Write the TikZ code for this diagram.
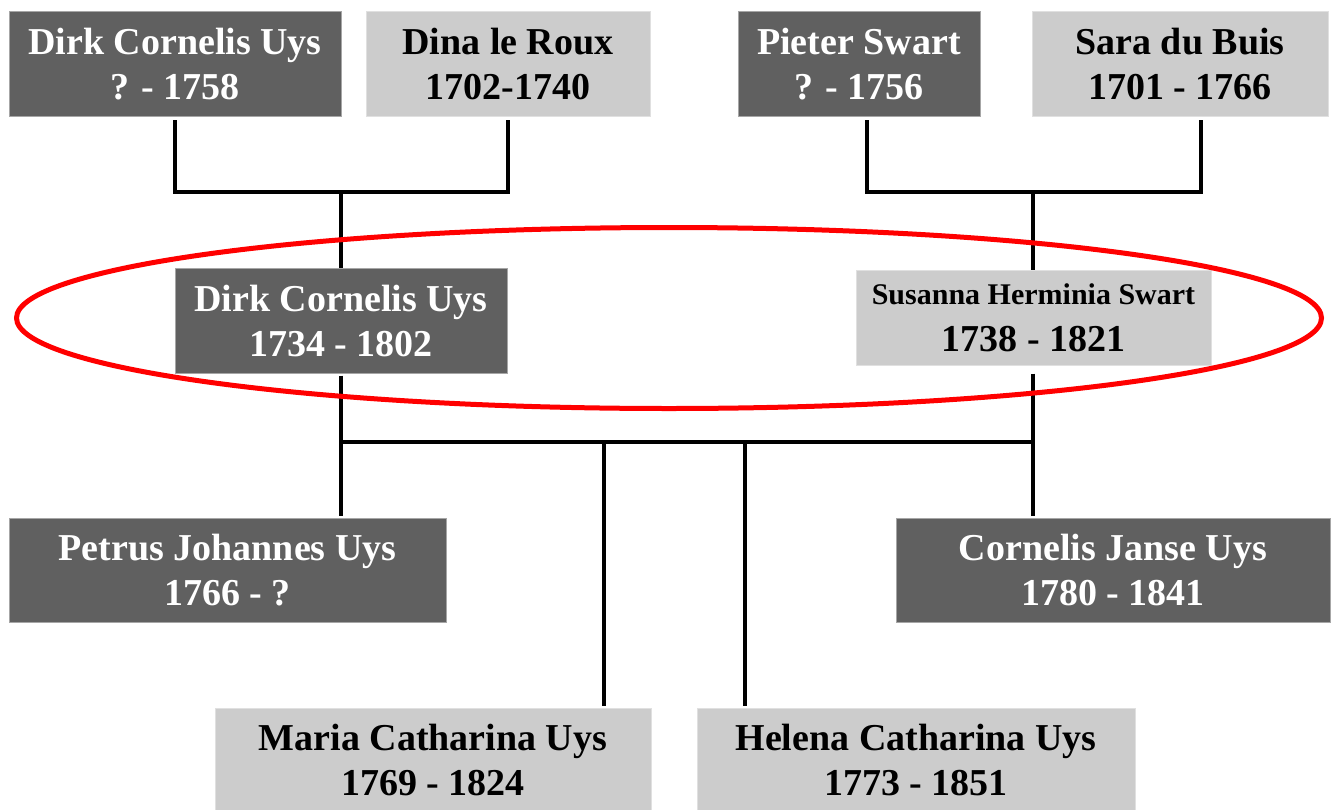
\documentclass[tikz,border=0pt]{standalone}
\usepackage{fontspec}
\setmainfont{Liberation Serif}
\usepackage{tikz}
\definecolor{maleGray}{HTML}{606060}
\definecolor{femaleGray}{HTML}{CCCCCC}
\tikzset{%
  person/.style={rectangle, align=center, inner sep=0pt,
    font=\bfseries\fontsize{19}{22.5}\selectfont},
  male/.style={person, fill=maleGray, draw=black!35, line width=0.5pt, text=white},
  female/.style={person, fill=femaleGray, draw=black!12, line width=0.5pt, text=black},
  link/.style={line width=2.2pt, line join=miter},
}

\begin{document}
\begin{tikzpicture}[x=0.5pt, y=-0.5pt]
      \fill[white] (0,0) rectangle (1334,809);
      \useasboundingbox (0,0) rectangle (1334,809);
      \clip (0,0) rectangle (1334,809);

      % grandparents
      \node[male, minimum width=166pt, minimum height=52.5pt] (dcuS) at (175,64) {Dirk Cornelis Uys\\? - 1758};
      \node[female, minimum width=142pt, minimum height=52.5pt] (dlr) at (508,64) {Dina le Roux\\1702-1740};
      \node[male, minimum width=121pt, minimum height=52.5pt] (ps) at (859,64) {Pieter Swart\\? - 1756};
      \node[female, minimum width=148pt, minimum height=52.5pt] (sdb) at (1180,64) {Sara du Buis\\1701 - 1766};

      % the couple
      \node[male, minimum width=166pt, minimum height=52.5pt] (dcu) at (341,320.5) {Dirk Cornelis Uys\\1734 - 1802};
      \node[female, minimum width=177.5pt, minimum height=47.5pt] (shs) at (1033.5,317.5)
        {{\fontsize{15}{18}\selectfont Susanna Herminia Swart}\\[1pt]1738 - 1821};

      % children
      \node[male, minimum width=218.5pt, minimum height=52pt] (pju) at (227.5,570) {Petrus Johannes Uys\\1766 - ?};
      \node[male, minimum width=217pt, minimum height=52pt] (cju) at (1113,570) {Cornelis Janse Uys\\1780 - 1841};
      \node[female, minimum width=218pt, minimum height=52pt] (mcu) at (433,760) {Maria Catharina Uys\\1769 - 1824};
      \node[female, minimum width=219pt, minimum height=52pt] (hcu) at (916,760) {Helena Catharina Uys\\1773 - 1851};

      % junctions
      \coordinate (jUys) at (341,192);
      \coordinate (jSwart) at (1033,192);
      \coordinate (ps-j) at (867,192);
      \coordinate (sdb-j) at (1201,192);
      \coordinate (kl) at (341,442);
      \coordinate (kr) at (1033,442);
      \coordinate (km) at (604,442);
      \coordinate (kh) at (745,442);

      \draw[link, shorten <=1.5pt, shorten >=1.5pt] (dcuS.south) -- (dcuS.south |- jUys) -| (dlr.south);
      \draw[link] (jUys) -- (dcu.north);
      \draw[link, shorten <=1.5pt, shorten >=1.5pt] (ps.south -| ps-j) -- (ps-j) -- (sdb-j) -- (sdb.south -| sdb-j);
      \draw[link] (jSwart) -- (jSwart |- shs.north);

      \draw[link, shorten <=1pt, shorten >=1pt] (dcu.south) -- (dcu.south |- pju.north);
      \draw[link, shorten <=4pt, shorten >=1pt] (shs.south -| kr) -- (kr |- cju.north);
      \draw[link] (kl) -- (kr);
      \draw[link, shorten >=1pt] (km) -- (km |- mcu.north);
      \draw[link, shorten >=1pt] (kh) -- (kh |- hcu.north);

      % highlight the couple
      \draw[red, line width=2.5pt] (669,318) ellipse [x radius=326.25pt, y radius=45.25pt];
\end{tikzpicture}
\end{document}
